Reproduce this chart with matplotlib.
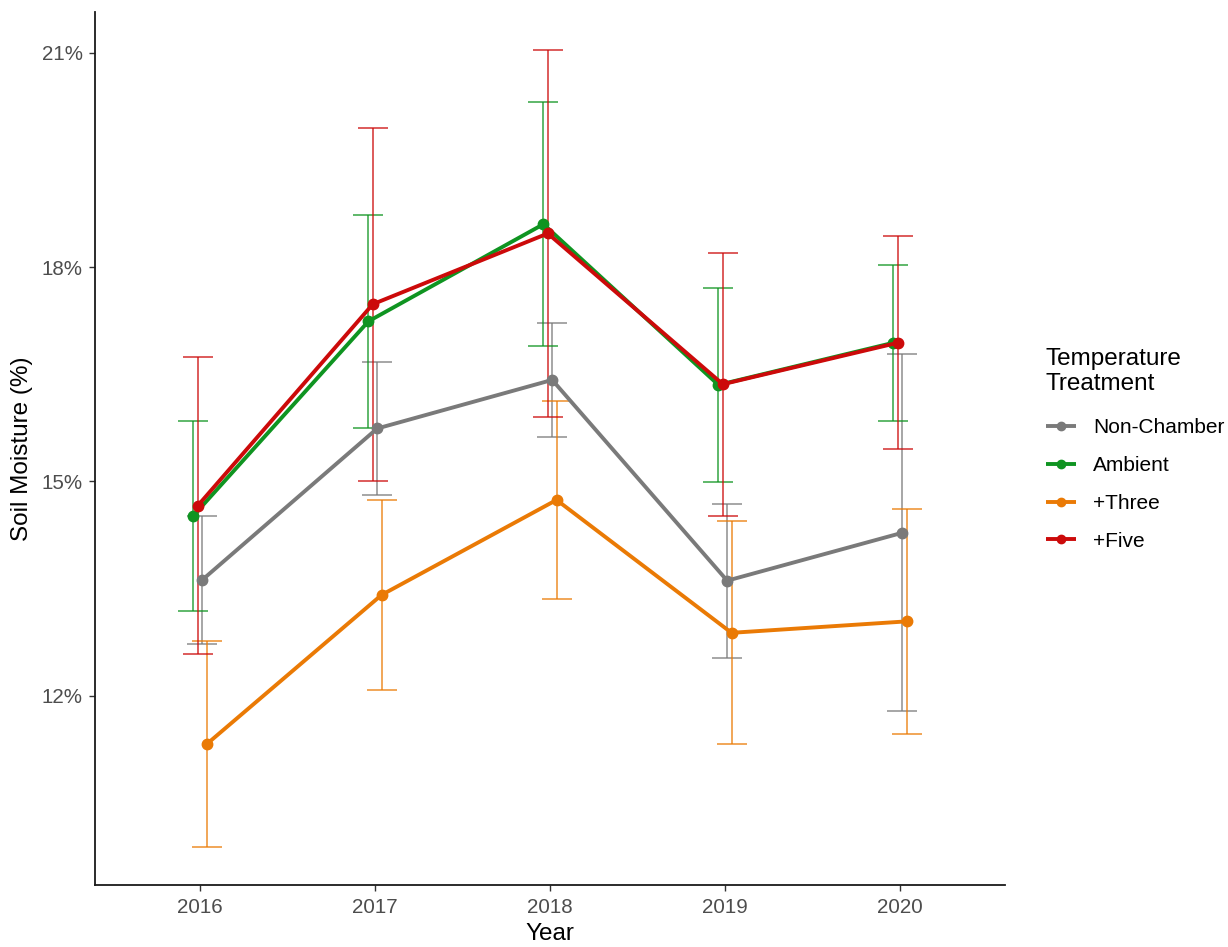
import numpy as np
import matplotlib
matplotlib.use("Agg")
import matplotlib.pyplot as plt
from matplotlib.ticker import FuncFormatter

plt.rcParams['font.family'] = ['Liberation Sans', 'DejaVu Sans']

# --- data: mean soil moisture (%) and standard error per year ---
years = [2016, 2017, 2018, 2019, 2020]
treatments = ["Non-Chamber", "Ambient", "+Three", "+Five"]

non_chamber_mean = [13.62, 15.74, 16.42, 13.61, 14.28]
non_chamber_se = [0.89, 0.93, 0.80, 1.08, 2.50]

ambient_mean = [14.52, 17.24, 18.60, 16.35, 16.94]
ambient_se = [1.33, 1.49, 1.71, 1.36, 1.09]

three_mean = [11.32, 13.41, 14.74, 12.88, 13.04]
three_se = [1.44, 1.33, 1.38, 1.56, 1.58]

five_mean = [14.66, 17.48, 18.47, 16.36, 16.94]
five_se = [2.08, 2.47, 2.57, 1.84, 1.49]

y_ticks = [12, 15, 18, 21]

# --- styling ---
colors = {
    "Non-Chamber": "#7A7A7A",
    "Ambient": "#0F9421",
    "+Three": "#EA7A05",
    "+Five": "#CC0A0A",
}
# horizontal dodge of each group (in years)
dodge = {"Ambient": -0.0375, "+Five": -0.0125, "Non-Chamber": 0.0125, "+Three": 0.0375}
series = {
    "Non-Chamber": (non_chamber_mean, non_chamber_se),
    "Ambient": (ambient_mean, ambient_se),
    "+Three": (three_mean, three_se),
    "+Five": (five_mean, five_se),
}
draw_order = ["Non-Chamber", "Ambient", "+Three", "+Five"]

fig = plt.figure(figsize=(12.28, 9.47), dpi=100)
ax = fig.add_axes([95 / 1228, 1 - 885 / 947, (1005 - 95) / 1228, (885 - 12) / 947])

x = np.array(years, dtype=float)
handles = {}
for name in draw_order:
    m, s = series[name]
    xs = x + dodge[name]
    ax.errorbar(xs, m, yerr=s, fmt="none", ecolor=colors[name], elinewidth=1.1,
                capsize=11, capthick=1.1, alpha=0.85, zorder=2)
for name in draw_order:
    m, s = series[name]
    xs = x + dodge[name]
    h, = ax.plot(xs, m, color=colors[name], lw=2.8, marker="o", ms=7.5,
                 solid_capstyle="butt", zorder=3, label=name)
    handles[name] = h

ax.set_xlim(2016 - 0.6, 2020 + 0.6)
ax.set_ylim(9.35, 21.57)
ax.set_xticks(years)
ax.set_xticklabels([str(y) for y in years])
ax.set_yticks(y_ticks)
ax.yaxis.set_major_formatter(FuncFormatter(lambda v, p: f"{v:.0f}%"))

for side in ["top", "right"]:
    ax.spines[side].set_visible(False)
for side in ["left", "bottom"]:
    ax.spines[side].set_linewidth(1.3)
    ax.spines[side].set_color("#1a1a1a")
ax.tick_params(axis="both", length=4, width=1.0, color="#333333",
               labelsize=14.8, labelcolor="#4D4D4D", pad=5)

ax.set_xlabel("Year", fontsize=17.5, color="black", labelpad=5)
ax.set_ylabel("Soil Moisture (%)", fontsize=17.5, color="black", labelpad=6)

leg = fig.legend([handles[n] for n in treatments], treatments,
                 title="Temperature\nTreatment", loc="upper left",
                 bbox_to_anchor=(1046 / 1228, 1 - 348 / 947),
                 frameon=False, fontsize=15, title_fontsize=17.5,
                 handlelength=1.45, handletextpad=0.8, labelspacing=0.9,
                 alignment="left", borderaxespad=0, borderpad=0)
leg._legend_box.sep = 16.5
for h in leg.legend_handles:
    h.set_markersize(6)

fig.savefig("out.png", dpi=100)
